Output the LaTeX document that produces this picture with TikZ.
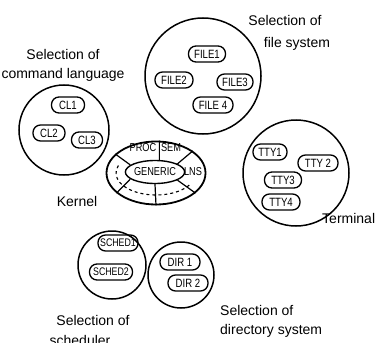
\documentclass[tikz,border=0pt]{standalone}
\usepackage{fontspec}
\setmainfont{Liberation Sans}
\newfontfamily\ovfont[FakeStretch=0.8]{Liberation Sans}
\usetikzlibrary{shapes.geometric,calc}
\begin{document}
\begin{tikzpicture}[x=1pt,y=-1pt,
 circ/.style={draw, circle, line width=1.5pt, inner sep=0pt},
 ov/.style={draw, rectangle, rounded corners=7.5pt, line width=1.3pt, inner sep=1pt,
   minimum height=16pt, minimum width=#1, font=\ovfont\fontsize{12}{12}\selectfont},
 ov/.default=36pt,
 kt/.style={font=\ovfont\fontsize{11.5}{11.5}\selectfont, inner sep=0pt},
 lbl/.style={font=\fontsize{14}{19}\selectfont, inner sep=0pt, align=center},
 rad/.style={line width=1.2pt}]
\useasboundingbox (0,0) rectangle (379,342);
\fill[white] (0,0) rectangle (379,342);

% selection circles
\node[circ, minimum size=90pt]  (clc) at (64,130) {};
\node[circ, minimum size=116pt] (fsc) at (203,76) {};
\node[circ, minimum size=106pt] (ttc) at (296,173) {};
\node[circ, minimum size=68pt]  (shc) at (112,265) {};
\node[circ, minimum size=66pt]  (drc) at (181,275) {};

% command language
\node[ov=33pt] (cl1) at (68,105) {CL1};
\node[ov=32pt] (cl2) at (49,133) {CL2};
\node[ov=31pt] (cl3) at (87,140) {CL3};
\node[lbl] (lcl) at (63,65) {Selection of\\command language};

% file system
\node[ov=37pt] (f1) at (207,54) {FILE1};
\node[ov=38pt] (f2) at (174,80) {FILE2};
\node[ov=36pt] (f3) at (235,82) {FILE3};
\node[ov=40pt] (f4) at (213,105) {FILE 4};
\node[lbl] (lfs1) at (285,20) {Selection of};
\node[lbl] (lfs2) at (297,44) {file system};

% terminal
\node[ov=34pt] (t1) at (270,152) {TTY1};
\node[ov=40pt] (t2) at (318,163) {TTY 2};
\node[ov=37pt] (t3) at (283,180) {TTY3};
\node[ov=38pt] (t4) at (281,202) {TTY4};
\node[lbl, anchor=west] (lt) at (322,218) {Terminal};

% scheduler
\node[ov=40pt, font=\ovfont\fontsize{11}{11}\selectfont] (s1) at (118,243) {SCHED1};
\node[ov=43pt, font=\ovfont\fontsize{11}{11}\selectfont] (s2) at (111,272) {SCHED2};
\node[lbl] (ls1) at (93,320) {Selection of};
\node[lbl] (ls2) at (80,340) {scheduler};

% directory
\node[ov=40pt] (d1) at (180,262) {DIR 1};
\node[ov=40pt] (d2) at (188,283) {DIR 2};
\node[lbl, anchor=west] (ld1) at (220,310) {Selection of};
\node[lbl, anchor=west] (ld2) at (220,331) {directory system};

% kernel
\node[draw, ellipse, line width=1.8pt, minimum width=99pt, minimum height=63pt, inner sep=0pt] (kern) at (156,173) {};
\node[draw, ellipse, line width=1.4pt, minimum width=54pt, minimum height=23pt, inner sep=0pt, kt] (gen) at (155,172) {GENERIC};
\draw[rad] (gen.164) -- (kern.155);
\draw[rad] (gen.196) -- (kern.207);
\draw[rad] (gen.south) -- (kern.south);
\draw[rad] (gen.70) -- (kern.84);
\draw[rad] (gen.20) -- (kern.31);
\draw[rad] (gen.340) -- (kern.333);
\draw[line width=1.1pt, dash pattern=on 3pt off 3pt]
  ($(kern.center)+(160:40pt and 22pt)$) arc[start angle=160, end angle=330, x radius=40pt, y radius=22pt];
\node[kt] (proc) at (143,148) {PROC};
\node[kt] (sem) at (171,148) {SEM};
\node[kt] (lns) at (193,172) {LNS};
\node[lbl] (lk) at (77,201) {Kernel};
\end{tikzpicture}
\end{document}
